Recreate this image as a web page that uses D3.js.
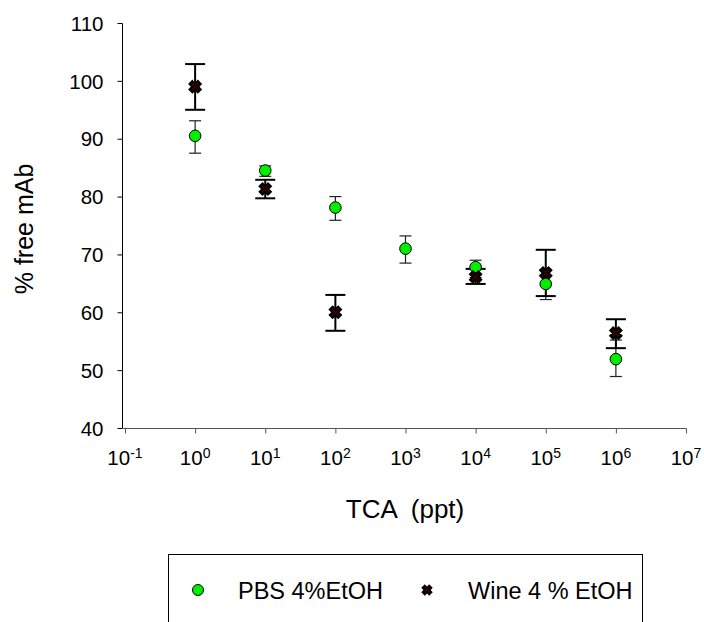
<!DOCTYPE html>
<html>
<head>
<meta charset="utf-8">
<script src="https://cdn.jsdelivr.net/npm/d3@7"></script>
<style>
	body { margin: 0; background: white; }
	text { font-family: "Liberation Sans", Arial, sans-serif; fill: #000; }
</style>
</head>
<body>
<div id="chart"></div>
<script>
// Data.
let tca = [1, 10, 100, 1000, 10000, 100000, 1000000];

let pbs_mean = [90.5, 84.5, 78.1, 71.0, 67.8, 64.9, 51.9];
let pbs_lo   = [87.5, 83.5, 75.9, 68.5, 66.0, 62.2, 48.9];
let pbs_hi   = [93.1, 85.3, 80.0, 73.2, 69.0, 67.4, 55.2];

// no wine measurement at 10^3
let wine_x    = [1, 10, 100, 10000, 100000, 1000000];
let wine_mean = [99.0, 81.3, 60.0, 66.1, 66.8, 56.4];
let wine_lo   = [95.0, 79.7, 56.8, 64.9, 62.8, 53.8];
let wine_hi   = [102.9, 82.9, 63.0, 67.5, 70.8, 58.8];

let xticks = [-1, 0, 1, 2, 3, 4, 5, 6, 7];
let yticks = [40, 50, 60, 70, 80, 90, 100, 110];

let legend_labels = ["PBS 4%EtOH", "Wine 4 % EtOH"];


let W = 704, H = 622;
let svg = d3.select("#chart").append("svg")
  .attr("width", W)
  .attr("height", H);

let x = d3.scaleLog().domain([0.1, 1e7]).range([125, 686]);
let y = d3.scaleLinear().domain([40, 110]).range([428, 23]);


// Axes
let yaxis = svg.append("g")
  .attr("transform", "translate(122.5,0)")
  .call(d3.axisLeft(y).tickValues(yticks).tickSize(5).tickSizeOuter(0));
yaxis.select("path.domain").attr("stroke", "#000").attr("d", "M0,23.5V428.5");
yaxis.selectAll(".tick line").attr("stroke", "#000");
yaxis.selectAll(".tick text")
  .attr("x", -19)
  .attr("dy", "0.35em")
  .attr("font-size", 20.5)
  .attr("font-family", "Liberation Sans, Arial, sans-serif")
  .attr("fill", "#000");

let xaxis = svg.append("g")
  .attr("transform", "translate(0,428.5)")
  .call(d3.axisBottom(x).tickValues(xticks.map(e=>Math.pow(10, e))).tickSize(5).tickSizeOuter(0).tickFormat(""));
xaxis.select("path.domain").attr("stroke", "#555").attr("d", "M122.5,0H686.5");
xaxis.selectAll(".tick line").attr("stroke", "#555");

// Power of ten tick labels with superscript exponents.
let xlab = svg.append("g").selectAll("text")
  .data(xticks)
  .enter()
  .append("text")
    .attr("x", d=>x(Math.pow(10, d)))
    .attr("y", 465)
    .attr("text-anchor", "middle")
    .attr("font-size", 20.5);
xlab.append("tspan").text("10");
xlab.append("tspan")
  .attr("dy", -7)
  .attr("font-size", 14)
  .text(d=>d);


// Axis titles
svg.append("text")
  .attr("x", 405)
  .attr("y", 518)
  .attr("text-anchor", "middle")
  .attr("font-size", 26)
  .attr("xml:space", "preserve")
  .text("TCA  (ppt)");

svg.append("text")
  .attr("transform", "translate(33,229) rotate(-90)")
  .attr("text-anchor", "middle")
  .attr("font-size", 25)
  .text("% free mAb");


// Error bars
function errorbars(g, xs, lo, hi, capw, sw, color){
	let data = xs.map((v,i)=>({x: v, lo: lo[i], hi: hi[i]}));
	let eb = g.selectAll("g")
	  .data(data)
	  .enter()
	  .append("g")
	    .attr("stroke", color)
	    .attr("stroke-width", sw);
	eb.append("line")
	  .attr("x1", d=>x(d.x)).attr("x2", d=>x(d.x))
	  .attr("y1", d=>y(d.lo)).attr("y2", d=>y(d.hi));
	eb.append("line")
	  .attr("x1", d=>x(d.x)-capw/2).attr("x2", d=>x(d.x)+capw/2)
	  .attr("y1", d=>y(d.lo)).attr("y2", d=>y(d.lo));
	eb.append("line")
	  .attr("x1", d=>x(d.x)-capw/2).attr("x2", d=>x(d.x)+capw/2)
	  .attr("y1", d=>y(d.hi)).attr("y2", d=>y(d.hi));
} // errorbars

errorbars(svg.append("g"), tca, pbs_lo, pbs_hi, 12, 1.2, "#222");
errorbars(svg.append("g"), wine_x, wine_lo, wine_hi, 20, 2, "#000");


// Markers
let xmark = d3.symbol().type(d3.symbolCross).size(75);

svg.append("g")
  .selectAll("circle")
  .data(tca.map((v,i)=>[v, pbs_mean[i]]))
  .enter()
  .append("circle")
    .attr("cx", d=>x(d[0]))
    .attr("cy", d=>y(d[1]))
    .attr("r", 5.8)
    .attr("fill", "#00ee00")
    .attr("stroke", "#000")
    .attr("stroke-width", 1);

svg.append("g")
  .selectAll("path")
  .data(wine_x.map((v,i)=>[v, wine_mean[i]]))
  .enter()
  .append("path")
    .attr("transform", d=>`translate(${x(d[0])},${y(d[1])}) rotate(45)`)
    .attr("d", xmark)
    .attr("fill", "#3a0000")
    .attr("stroke", "#000")
    .attr("stroke-width", 2.2);


// Legend
let legend = svg.append("g");
legend.append("rect")
  .attr("x", 168.5)
  .attr("y", 554.5)
  .attr("width", 474)
  .attr("height", 80)
  .attr("fill", "none")
  .attr("stroke", "#000");

legend.append("circle")
  .attr("cx", 198)
  .attr("cy", 590)
  .attr("r", 5.5)
  .attr("fill", "#00ee00")
  .attr("stroke", "#000");
legend.append("path")
  .attr("transform", "translate(427,590) rotate(45)")
  .attr("d", d3.symbol().type(d3.symbolCross).size(50))
  .attr("fill", "#3a0000")
  .attr("stroke", "#000")
  .attr("stroke-width", 1.8);

legend.selectAll("text.lab")
  .data(legend_labels)
  .enter()
  .append("text")
    .attr("class", "lab")
    .attr("x", (d,i)=>[238, 468][i])
    .attr("y", 599)
    .attr("font-size", 23.5)
    .text(d=>d);
</script>
</body>
</html>
